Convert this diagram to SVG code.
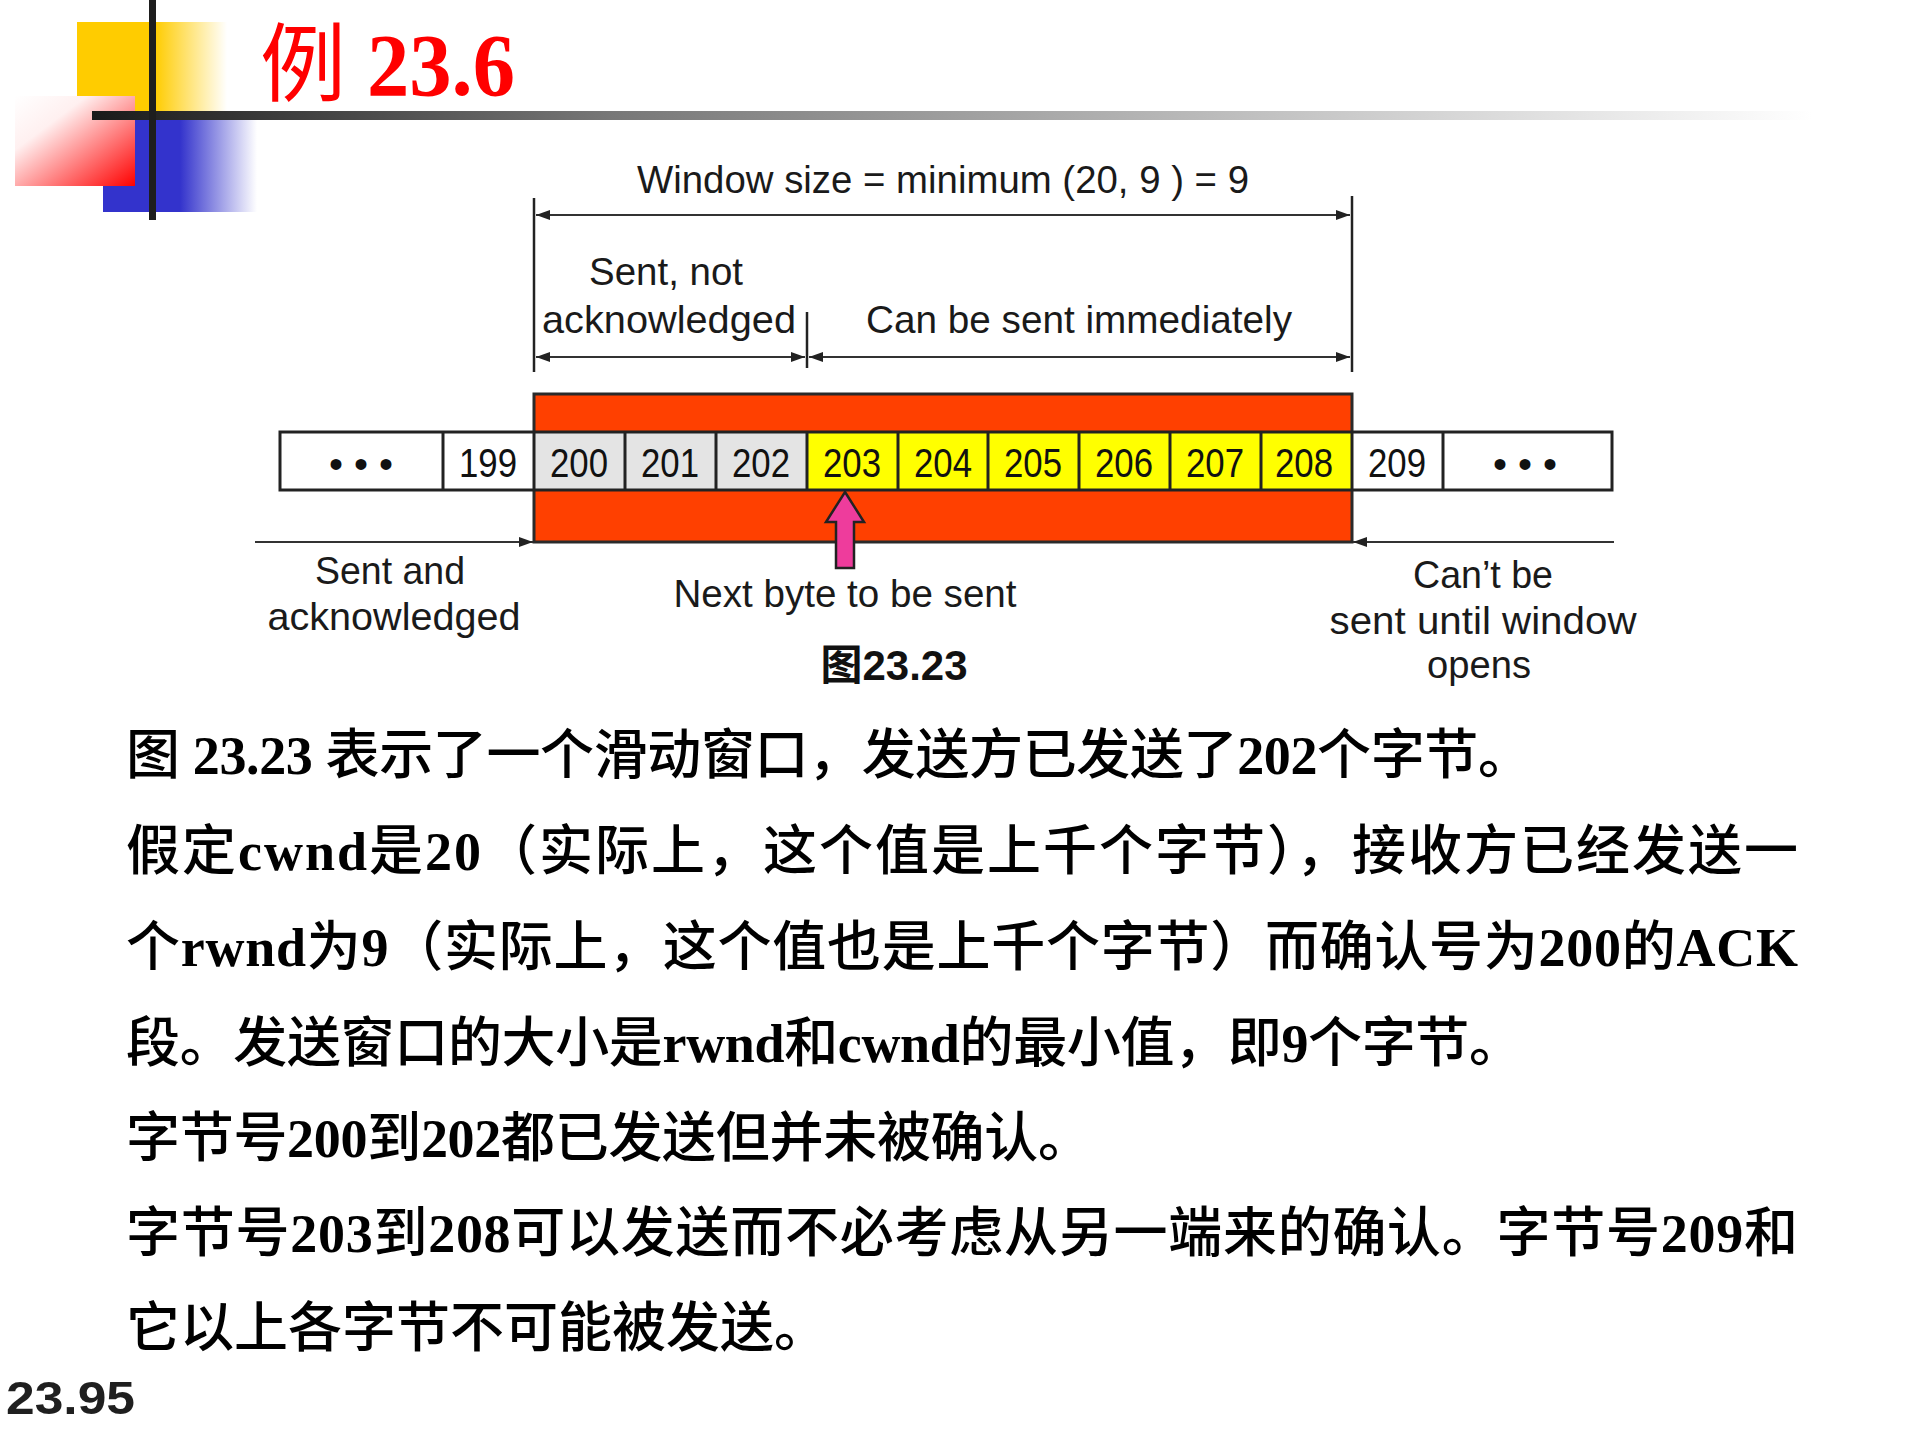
<svg xmlns="http://www.w3.org/2000/svg" width="1920" height="1440" viewBox="0 0 1920 1440">
  <defs>
    <linearGradient id="gYellow" x1="0" y1="0" x2="1" y2="0">
      <stop offset="0" stop-color="#FFCC00"/>
      <stop offset="0.52" stop-color="#FFCC00"/>
      <stop offset="1" stop-color="#FFCC00" stop-opacity="0"/>
    </linearGradient>
    <linearGradient id="gBlue" x1="0" y1="0" x2="1" y2="0">
      <stop offset="0" stop-color="#3333CC"/>
      <stop offset="0.5" stop-color="#3333CC"/>
      <stop offset="1" stop-color="#3333CC" stop-opacity="0"/>
    </linearGradient>
    <linearGradient id="gRed" x1="0" y1="0" x2="1" y2="1">
      <stop offset="0" stop-color="#FFFFFF"/>
      <stop offset="0.3" stop-color="#FFF0F0"/>
      <stop offset="1" stop-color="#FF0000"/>
    </linearGradient>
    <linearGradient id="gRule" x1="0" y1="0" x2="1" y2="0">
      <stop offset="0" stop-color="#1a1a1a"/>
      <stop offset="0.3" stop-color="#777777"/>
      <stop offset="0.65" stop-color="#bbbbbb"/>
      <stop offset="1" stop-color="#ffffff"/>
    </linearGradient>
    <marker id="arr" viewBox="0 0 14 10" refX="14" refY="5" markerWidth="14" markerHeight="10" markerUnits="userSpaceOnUse" orient="auto-start-reverse">
      <path d="M0,0 L14,5 L0,10 z" fill="#222"/>
    </marker>
    <style>
      .lbl { font-family: "Liberation Sans", Arial, sans-serif; font-size: 39px; fill: #1a1a1a; text-anchor: middle; }
      .num { font-family: "Liberation Sans", Arial, sans-serif; font-size: 40px; fill: #111; text-anchor: middle; }
      .dots { font-family: "Liberation Sans", Arial, sans-serif; font-size: 40px; fill: #111; text-anchor: middle; }
      .cell { stroke: #222; stroke-width: 3; }
      .dim { stroke: #333; stroke-width: 2; fill: none; }
      .tick { stroke: #222; stroke-width: 2.5; }
      .body { font-family: "Noto Sans CJK SC", "Liberation Serif", sans-serif; font-size: 54px; font-weight: 500; fill: #000; }
      .lat { font-family: "Liberation Serif", "Times New Roman", serif; font-weight: bold; }
    </style>
  </defs>

  <rect width="1920" height="1440" fill="#ffffff"/>

  <!-- slide header decoration -->
  <g id="header">
    <rect x="77" y="22" width="150" height="94" fill="url(#gYellow)"/>
    <rect x="103" y="116" width="154" height="96" fill="url(#gBlue)"/>
    <rect x="15" y="96" width="120" height="90" fill="url(#gRed)"/>
    <rect x="92" y="111" width="1720" height="9" fill="url(#gRule)"/>
    <rect x="149" y="0" width="7" height="220" fill="#1e1e1e"/>
  </g>

  <g id="title">
    <text x="260" y="95" font-family="Noto Sans CJK SC, sans-serif" font-size="86" fill="#FF0000">例</text>
    <text x="367" y="95" font-family="Liberation Serif, serif" font-weight="bold" font-size="88" fill="#FF0000" textLength="148" lengthAdjust="spacingAndGlyphs">23.6</text>
  </g>

  <!-- sliding window: orange frame and byte cells -->
  <g id="window-frame">
    <rect x="534" y="394" width="818" height="148" fill="#FF4000" stroke="#2a2a2a" stroke-width="3"/>
  </g>

  <g id="byte-row">
    <rect x="280" y="432" width="1332" height="58" fill="#ffffff"/>
    <rect x="534" y="432" width="273" height="58" fill="#E4E4E4"/>
    <rect x="807" y="432" width="545" height="58" fill="#FFFF00"/>
    <rect class="cell" x="280" y="432" width="1332" height="58" fill="none"/>
    <g class="cell">
      <line x1="443" y1="432" x2="443" y2="490"/>
      <line x1="534" y1="432" x2="534" y2="490"/>
      <line x1="625" y1="432" x2="625" y2="490"/>
      <line x1="716" y1="432" x2="716" y2="490"/>
      <line x1="807" y1="432" x2="807" y2="490"/>
      <line x1="898" y1="432" x2="898" y2="490"/>
      <line x1="988" y1="432" x2="988" y2="490"/>
      <line x1="1079" y1="432" x2="1079" y2="490"/>
      <line x1="1170" y1="432" x2="1170" y2="490"/>
      <line x1="1261" y1="432" x2="1261" y2="490"/>
      <line x1="1352" y1="432" x2="1352" y2="490"/>
      <line x1="1443" y1="432" x2="1443" y2="490"/>
    </g>
    <text class="dots" x="361" y="478">• • •</text>
    <text class="num" x="488" y="477" textLength="58" lengthAdjust="spacingAndGlyphs">199</text>
    <text class="num" x="579" y="477" textLength="58" lengthAdjust="spacingAndGlyphs">200</text>
    <text class="num" x="670" y="477" textLength="58" lengthAdjust="spacingAndGlyphs">201</text>
    <text class="num" x="761" y="477" textLength="58" lengthAdjust="spacingAndGlyphs">202</text>
    <text class="num" x="852" y="477" textLength="58" lengthAdjust="spacingAndGlyphs">203</text>
    <text class="num" x="943" y="477" textLength="58" lengthAdjust="spacingAndGlyphs">204</text>
    <text class="num" x="1033" y="477" textLength="58" lengthAdjust="spacingAndGlyphs">205</text>
    <text class="num" x="1124" y="477" textLength="58" lengthAdjust="spacingAndGlyphs">206</text>
    <text class="num" x="1215" y="477" textLength="58" lengthAdjust="spacingAndGlyphs">207</text>
    <text class="num" x="1304" y="477" textLength="58" lengthAdjust="spacingAndGlyphs">208</text>
    <text class="num" x="1397" y="477" textLength="58" lengthAdjust="spacingAndGlyphs">209</text>
    <text class="dots" x="1525" y="478">• • •</text>
  </g>

  <!-- dimension lines, pointers and the next-byte arrow -->
  <g id="connectors">
    <line class="tick" x1="534" y1="198" x2="534" y2="372"/>
    <line class="tick" x1="1352" y1="196" x2="1352" y2="372"/>
    <line class="tick" x1="807" y1="312" x2="807" y2="368"/>
    <line class="dim" x1="536" y1="215" x2="1350" y2="215" marker-start="url(#arr)" marker-end="url(#arr)"/>
    <line class="dim" x1="536" y1="357" x2="805" y2="357" marker-start="url(#arr)" marker-end="url(#arr)"/>
    <line class="dim" x1="809" y1="357" x2="1350" y2="357" marker-start="url(#arr)" marker-end="url(#arr)"/>
    <line class="dim" x1="255" y1="542" x2="533" y2="542" marker-end="url(#arr)"/>
    <line class="dim" x1="1614" y1="542" x2="1353" y2="542" marker-end="url(#arr)"/>
    <polygon points="845,492 864,522 854,522 854,568 836,568 836,522 826,522" fill="#EE3C9C" stroke="#222" stroke-width="2.5" stroke-linejoin="miter"/>
  </g>

  <g id="labels">
    <text class="lbl" x="943" y="193" textLength="612" lengthAdjust="spacingAndGlyphs">Window size = minimum (20, 9 ) = 9</text>
    <text class="lbl" x="666" y="285" textLength="154" lengthAdjust="spacingAndGlyphs">Sent, not</text>
    <text class="lbl" x="669" y="333" textLength="254" lengthAdjust="spacingAndGlyphs">acknowledged</text>
    <text class="lbl" x="1079" y="333" textLength="426" lengthAdjust="spacingAndGlyphs">Can be sent immediately</text>
    <text class="lbl" x="390" y="584" textLength="150" lengthAdjust="spacingAndGlyphs">Sent and</text>
    <text class="lbl" x="394" y="630" textLength="253" lengthAdjust="spacingAndGlyphs">acknowledged</text>
    <text class="lbl" x="845" y="607" textLength="343" lengthAdjust="spacingAndGlyphs">Next byte to be sent</text>
    <text class="lbl" x="1483" y="588" textLength="140" lengthAdjust="spacingAndGlyphs">Can’t be</text>
    <text class="lbl" x="1483" y="634" textLength="307" lengthAdjust="spacingAndGlyphs">sent until window</text>
    <text class="lbl" x="1479" y="678" textLength="104" lengthAdjust="spacingAndGlyphs">opens</text>
    <text x="894" y="680" text-anchor="middle" font-family="Liberation Sans, Noto Sans CJK SC, sans-serif" font-weight="bold" font-size="42" fill="#111" textLength="147" lengthAdjust="spacingAndGlyphs">图23.23</text>
  </g>

  <!-- explanatory paragraph -->
  <g id="body-text">
    <text class="body" x="126" y="774" textLength="1406" lengthAdjust="spacing">图<tspan class="lat"> 23.23 </tspan>表示了一个滑动窗口，发送方已发送了<tspan class="lat">202</tspan>个字节。</text>
    <text class="body" x="126" y="870" textLength="1672" lengthAdjust="spacing">假定<tspan class="lat">cwnd</tspan>是<tspan class="lat">20</tspan>（实际上，这个值是上千个字节），接收方已经发送一</text>
    <text class="body" x="126" y="966" textLength="1672" lengthAdjust="spacing">个<tspan class="lat">rwnd</tspan>为<tspan class="lat">9</tspan>（实际上，这个值也是上千个字节）而确认号为<tspan class="lat">200</tspan>的<tspan class="lat">ACK</tspan></text>
    <text class="body" x="126" y="1062" textLength="1397" lengthAdjust="spacing">段。发送窗口的大小是<tspan class="lat">rwnd</tspan>和<tspan class="lat">cwnd</tspan>的最小值，即<tspan class="lat">9</tspan>个字节。</text>
    <text class="body" x="126" y="1157" textLength="966" lengthAdjust="spacing">字节号<tspan class="lat">200</tspan>到<tspan class="lat">202</tspan>都已发送但并未被确认。</text>
    <text class="body" x="126" y="1252" textLength="1672" lengthAdjust="spacing">字节号<tspan class="lat">203</tspan>到<tspan class="lat">208</tspan>可以发送而不必考虑从另一端来的确认。字节号<tspan class="lat">209</tspan>和</text>
    <text class="body" x="126" y="1347">它以上各字节不可能被发送。</text>
  </g>

  <g id="page-number">
    <text x="6" y="1414" font-family="Liberation Sans, Arial, sans-serif" font-weight="bold" font-size="46" fill="#1f1f1f" textLength="129" lengthAdjust="spacingAndGlyphs">23.95</text>
  </g>
</svg>
